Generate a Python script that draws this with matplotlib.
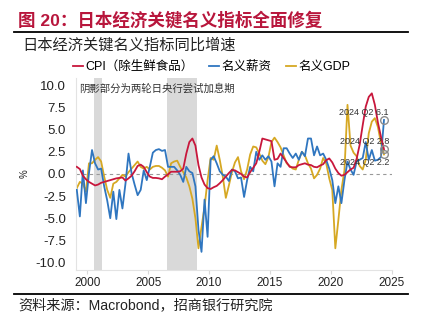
import matplotlib
matplotlib.use('Agg')
import matplotlib.pyplot as plt
from matplotlib.lines import Line2D
import numpy as np

plt.rcParams['font.family'] = ['Liberation Sans', 'Noto Sans CJK SC', 'DejaVu Sans']
plt.rcParams['axes.unicode_minus'] = False

# 季度数据 1999Q1 - 2024Q2
start_year = 1999
cpi = [0.8, 0.55, -0.2, -0.6,
       -0.9, -1.1, -1.3, -1.2,
       -1.0, -0.9, -0.8, -0.7,
       -0.6, -0.5, -0.45, -0.4,
       -0.75, -0.5, -0.2, 0.3,
       0.9, 1.05, 0.8, 0.2,
       -0.3, -0.45, -0.45, -0.5,
       -0.6, -0.3, -0.05, 0.25,
       0.25, 0.25, 0.3, 0.6,
       2.3, 3.6, 4.0, 3.2,
       1.0, -0.4, -1.2, -1.6,
       -1.7, -1.5, -1.35, -1.05,
       -0.7, -0.3, 0.1, 0.45,
       0.4, 0.2, 0.0, -0.3,
       -0.4, 0.2, 0.7, 1.2,
       2.5, 4.0, 3.9, 3.8,
       3.7, 1.6, 1.7, 2.3,
       1.8, 1.3, 0.8, 0.75,
       0.75, 1.0, 1.1, 1.2,
       1.05, 1.0, 0.8, 0.75,
       0.95, 1.1, 1.55, 1.75,
       1.3, 0.6, 0.1, -0.2,
       -0.1, 0.2, 0.5, 0.7,
       1.7, 3.3, 5.5, 7.6,
       8.7, 9.1, 7.8, 5.8,
       4.2, 2.8]
wage = [-1.8, -4.8, 0.4, -3.3,
        0.1, 2.7, 1.2, 0.5,
        0.6, -1.4, -3.0, -5.0,
        -2.0, -5.1, -1.8, -3.9,
        -1.1, 2.3, 0.1, -1.2,
        -2.4, -1.8, 0.4, -0.7,
        0.8, 2.4, 2.7, 2.8,
        2.6, 2.7, 0.8, 0.8,
        0.8, 0.4, -0.1, -0.9,
        0.8, 0.3, 0.1, -1.4,
        -6.3, -8.8, -2.9, -7.1,
        1.6, 2.0, 1.2, 0.3,
        -0.1, -0.3, -0.8, 0.5,
        0.3, -0.5, -0.4, -2.6,
        -0.7, 0.8, 0.3, 2.5,
        1.6, 2.1, 1.6, 2.0,
        1.4, -1.4, 1.2, 0.8,
        2.9, 2.9, 2.3, 1.8,
        2.3, 1.6, 2.5, 2.0,
        4.0, 4.0, 2.1, 3.1,
        2.1, 2.3, 1.6, 0.6,
        -0.7, -3.3, -1.4, -3.3,
        -0.7, 1.4, 0.5, -0.1,
        1.4, 1.6, 1.8, 3.6,
        1.6, 2.7, 1.5, 1.6,
        1.9, 6.1]
gdp = [-1.6, -0.9, -1.1, -2.0,
       1.2, 1.2, 1.6, 1.9,
       1.4, -0.3, -1.8, -2.7,
       -1.1, -0.9, -0.5, -0.1,
       -0.3, 0.2, 0.6, 1.0,
       1.4, 0.8, 0.6, 0.8,
       0.5, 0.8, 0.9, 0.9,
       0.7, 0.4, -0.3, 1.2,
       1.4, 1.5, 0.8, 0.2,
       -0.4, -1.4, -2.8, -5.0,
       -8.4, -6.0, -3.7, -0.7,
       1.8, 1.6, 3.2, 1.6,
       -0.3, -2.7, -1.3, 0.2,
       1.3, 1.9, 0.3, -0.6,
       0.5, 2.2, 3.1, 3.0,
       2.3, 1.5, 1.1, 1.9,
       3.6, 4.1, 3.6, 3.0,
       2.1, 1.2, 0.9, 0.6,
       0.5, 1.6, 2.5, 2.1,
       1.2, 0.6, -0.5, -0.1,
       0.6, 1.8, 1.2, -0.5,
       -1.8, -8.4, -5.2, -1.8,
       0.4, 7.8, 3.2, 2.4,
       2.0, 0.9, 0.5, 1.6,
       4.6, 5.9, 6.3, 5.3,
       3.5, 2.2]

hike_periods = [(2000.5, 2001.2), (2006.55, 2009.0)]
end_labels = ['2024 Q2 6.1', '2024 Q2 2.8', '2024 Q2 2.2']
end_values = [6.1, 2.8, 2.2]
label_y = [6.9, 3.65, 1.28]

c_red = '#C8173C'
c_blue = '#2F76C0'
c_gold = '#D6A823'

x = start_year + 0.125 + np.arange(len(cpi)) / 4

fig = plt.figure(figsize=(4.24, 3.23), dpi=100)
ax = fig.add_axes([0.179, 0.164, 0.746, 0.595])

for a, b in hike_periods:
    ax.axvspan(a, b, color='#D9D9D9', lw=0, zorder=0)
ax.axhline(0, color='#999999', ls='--', lw=0.8, dashes=(3, 3), zorder=1)

l_gdp, = ax.plot(x, gdp, color=c_gold, lw=1.3, zorder=2)
l_wage, = ax.plot(x, wage, color=c_blue, lw=1.3, zorder=3)
l_cpi, = ax.plot(x, cpi, color=c_red, lw=1.3, zorder=4)

# 末端标注
ax.plot([x[-1]] * 3, end_values, 'o', ms=5.5, mfc='none', mec='#8C8C8C', mew=1.0, zorder=5)
for t, yy in zip(end_labels, label_y):
    ax.text(2022.75, yy, t, fontsize=6.5, color='#333333', ha='center', va='center', zorder=6)

ax.text(1999.3, 9.6, '阴影部分为两轮日央行尝试加息期', fontsize=7.5, color='#333333',
        ha='left', va='center')

ax.set_xlim(1999.05, 2025.05)
ax.set_ylim(-10.85, 10.85)
ax.set_xticks([2000, 2005, 2010, 2015, 2020, 2025])
ax.set_yticks(np.arange(-10, 10.1, 2.5))
ax.set_yticklabels(['%.1f' % v for v in np.arange(-10, 10.1, 2.5)])
ax.tick_params(axis='y', length=0, pad=7, labelsize=9.5, labelcolor='#222222')
ax.tick_params(axis='x', length=3, color='#D9D9D9', pad=2, labelsize=8.5, labelcolor='#222222')
for s in ['top', 'right']:
    ax.spines[s].set_visible(False)
for s in ['left', 'bottom']:
    ax.spines[s].set_color('#E3E3E3')
    ax.spines[s].set_linewidth(0.8)

fig.text(0.058, 0.462, '%', rotation=90, fontsize=7, ha='center', va='center', color='#222222')

fig.legend([l_cpi, l_wage, l_gdp], ['CPI（除生鲜食品）', '名义薪资', '名义GDP'],
           loc='center', bbox_to_anchor=(0.5, 0.793), ncol=3, frameon=False,
           fontsize=9, handlelength=0.8, handletextpad=0.2, columnspacing=1.2)

fig.text(0.043, 0.938, '图 20：日本经济关键名义指标全面修复', fontsize=12.6, fontweight='bold',
         color='#B8163C', ha='left', va='center')
fig.add_artist(Line2D([0.033, 0.962], [0.901, 0.901], color='black', lw=1.3))
fig.text(0.052, 0.858, '日本经济关键名义指标同比增速', fontsize=11, color='#222222',
         ha='left', va='center')

fig.add_artist(Line2D([0.033, 0.962], [0.09, 0.09], color='black', lw=1.3))
fig.text(0.043, 0.056, '资料来源：Macrobond，招商银行研究院', fontsize=10.2, color='#222222',
         ha='left', va='center')

fig.savefig('out.png', dpi=100)
